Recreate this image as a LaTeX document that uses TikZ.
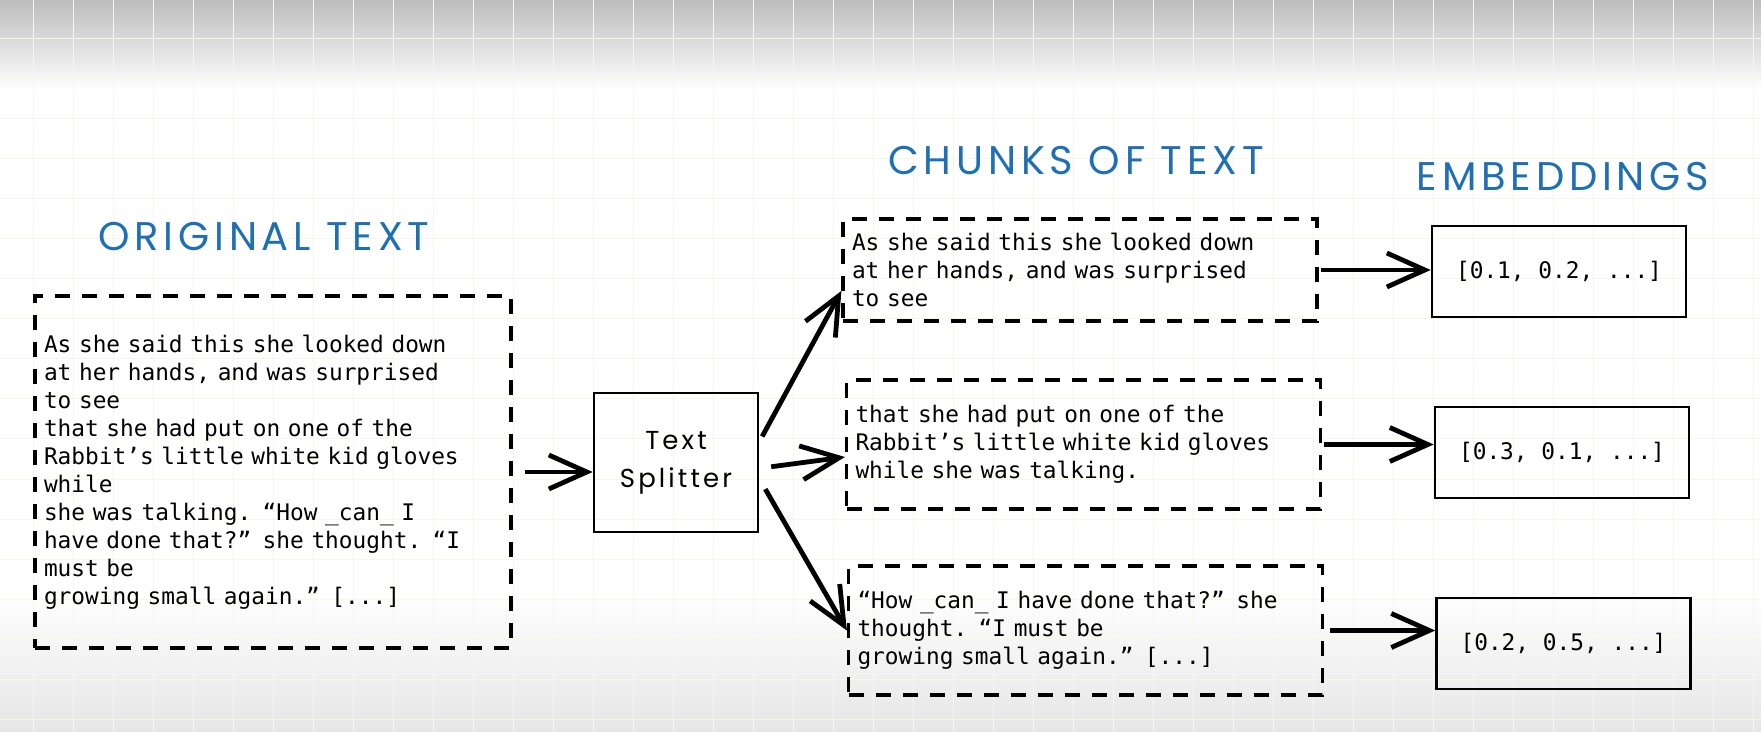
\documentclass[tikz,border=0pt]{standalone}
\usepackage{fontspec}
\usepackage{tikz}
\usetikzlibrary{arrows.meta}
\setmonofont{DejaVu Sans Mono}
\newfontfamily\handfont{Poppins}[LetterSpace=12]
\definecolor{titleblue}{RGB}{31,111,181}
\definecolor{gridcream}{RGB}{246,246,233}

\begin{document}
\begin{tikzpicture}[x=0.5pt,y=-0.5pt]
          \tikzstyle{every node}+=[inner sep=0pt]
          \tikzstyle{heading}=[text=titleblue, font=\handfont\fontsize{20}{24}\selectfont]
          \tikzstyle{textbox}=[draw=black, line width=1.6pt, dash pattern=on 7.5pt off 6pt, align=left, inner xsep=4.5pt, font=\ttfamily\fontsize{11.4}{14}\selectfont]
          \tikzstyle{vecbox}=[draw=black, line width=1.3pt, minimum width=127pt, minimum height=45.5pt, font=\ttfamily\fontsize{11.4}{14}\selectfont]
          \tikzstyle{splitbox}=[draw=black, line width=1.3pt, minimum width=82pt, minimum height=69.5pt, align=center, font=\handfont\fontsize{13}{19}\selectfont]
          \tikzstyle{link}=[draw=black, line width=2.4pt, -{Straight Barb[length=19pt,width=17pt]}]
          \useasboundingbox (0,0) rectangle (1761,732);
          % paper
          \fill [white] (0,0) rectangle (1761,732);
          \fill [top color=black!26, bottom color=white] (0,0) rectangle (1761,90);
          \fill [top color=white, bottom color=black!10] (0,590) rectangle (1761,732);
          \begin{scope}
            \clip (0,0) rectangle (1761,732);
            \draw [gridcream, line width=0.5pt, shift={(-7,-1)}, step=20pt] (0,760) grid (1800,0);
          \end{scope}
          % headings
          \node [heading] (origtitle) at (264,237) {ORIGINAL TEXT};
          \node [heading] (chunktitle) at (1076,161) {CHUNKS OF TEXT};
          \node [heading] (vectitle) at (1563,177) {EMBEDDINGS};
          % boxes
          \node [textbox, text width=229pt, minimum height=176pt] (orig) at (273,472) {As she said this she looked down\\at her hands, and was surprised\\to see\\that she had put on one of the\\Rabbit’s little white kid gloves\\while\\she was talking. “How \_can\_ I\\have done that?” she thought. “I\\must be\\growing small again.” [...]};
          \node [splitbox] (split) at (676,462.5) {Text\\Splitter};
          \node [textbox, text width=228pt, minimum height=51pt] (chunkA) at (1080,270) {As she said this she looked down\\at her hands, and was surprised\\to see};
          \node [textbox, text width=228pt, minimum height=64.5pt] (chunkB) at (1083.5,444.5) {that she had put on one of the\\Rabbit’s little white kid gloves\\while she was talking.};
          \node [textbox, text width=228pt, minimum height=64.5pt] (chunkC) at (1085.5,630.5) {“How \_can\_ I have done that?” she\\thought. “I must be\\growing small again.” [...]};
          \node [vecbox] (vecA) at (1559,271.5) {[0.1, 0.2, ...]};
          \node [vecbox] (vecB) at (1562,452.5) {[0.3, 0.1, ...]};
          \node [vecbox] (vecC) at (1563.5,643.5) {[0.2, 0.5, ...]};
          % arrows
          \draw [link, shorten <=6pt] (orig.east) -- (orig.east -| split.west);
          \draw [link, shorten <=3pt] (split.14) -- (chunkA.185);
          \draw [link, shorten <=6pt] (split.-4) -- (chunkB.183);
          \draw [link, shorten <=6pt] (split.-11) -- (chunkC.west);
          \draw [link, shorten <=1pt] (chunkA.east) -- (chunkA.east -| vecA.west);
          \draw [link, shorten <=1pt] (chunkB.east) -- (chunkB.east -| vecB.west);
          \draw [link, shorten <=3pt] (chunkC.east) -- (chunkC.east -| vecC.west);
        \end{tikzpicture}
\end{document}
